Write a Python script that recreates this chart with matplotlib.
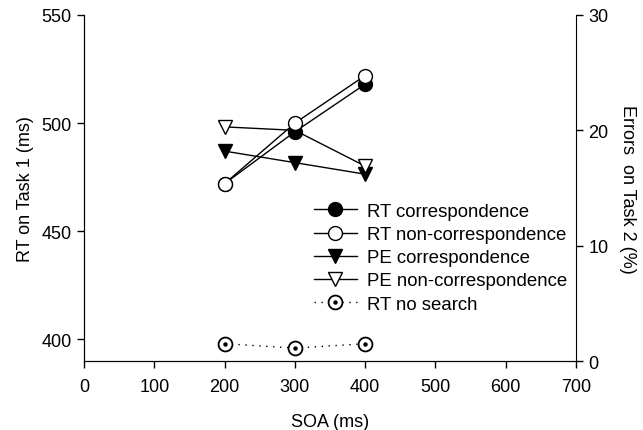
import numpy as np
import matplotlib
matplotlib.use('Agg')
import matplotlib.pyplot as plt
from matplotlib.legend_handler import HandlerTuple

plt.rcParams['font.family'] = ['Liberation Sans', 'DejaVu Sans']
plt.rcParams['font.size'] = 13

# Daten
soa = [200, 300, 400]
rt_corr = [472, 496, 518]
rt_noncorr = [472, 500, 522]
rt_nosearch = [398, 396, 398]
pe_corr = [18.2, 17.2, 16.2]
pe_noncorr = [20.3, 20.0, 16.9]

xticks = [0, 100, 200, 300, 400, 500, 600, 700]
yticks_rt = [400, 450, 500, 550]
yticks_pe = [0, 10, 20, 30]

fig = plt.figure(figsize=(6.43, 4.31), dpi=100)
ax = fig.add_axes([0.1306, 0.160, 0.7652, 0.8029])
ax2 = ax.twinx()

# PE (rechte Achse)
l3, = ax2.plot(soa, pe_corr, color='black', lw=1, marker='v', ms=10,
               mfc='black', mec='black')
l4, = ax2.plot(soa, pe_noncorr, color='black', lw=1, marker='v', ms=10,
               mfc='white', mec='black')

# RT (linke Achse)
ax.set_zorder(ax2.get_zorder() + 1)
ax.patch.set_visible(False)
l1, = ax.plot(soa, rt_corr, color='black', lw=1, marker='o', ms=10,
              mfc='black', mec='black')
l2, = ax.plot(soa, rt_noncorr, color='black', lw=1, marker='o', ms=10,
              mfc='white', mec='black')
l5a, = ax.plot(soa, rt_nosearch, color='black', lw=1, ls=(0, (1, 4)),
               marker='o', ms=10, mfc='white', mec='black', mew=1.3)
l5b, = ax.plot(soa, rt_nosearch, ls='none', marker='o', ms=2.2,
               mfc='black', mec='black')

ax.set_xlim(0, 700)
ax.set_ylim(390, 550)
ax2.set_ylim(0, 30)
ax.set_xticks(xticks)
ax.set_yticks(yticks_rt)
ax2.set_yticks(yticks_pe)

for a in (ax, ax2):
    a.spines['top'].set_visible(False)
    a.tick_params(direction='out', length=5, width=1, labelsize=13, pad=4)
ax.tick_params(axis='x', pad=7)
ax.spines['right'].set_visible(False)

ax.set_xlabel('SOA (ms)', labelpad=13)
ax.set_ylabel('RT on Task 1 (ms)', labelpad=5)
ax2.set_ylabel('Errors  on Task 2 (%)', rotation=270, labelpad=20)

leg = ax.legend([l1, l2, l3, l4, (l5a, l5b)],
                ['RT correspondence', 'RT non-correspondence',
                 'PE correspondence', 'PE non-correspondence', 'RT no search'],
                handler_map={tuple: HandlerTuple(ndivide=1)},
                loc='upper left', bbox_to_anchor=(0.467, 0.457),
                frameon=False, fontsize=13.4, handlelength=2.3,
                labelspacing=0.33, handletextpad=0.55, borderaxespad=0,
                borderpad=0)

fig.savefig('out.png', dpi=100)
